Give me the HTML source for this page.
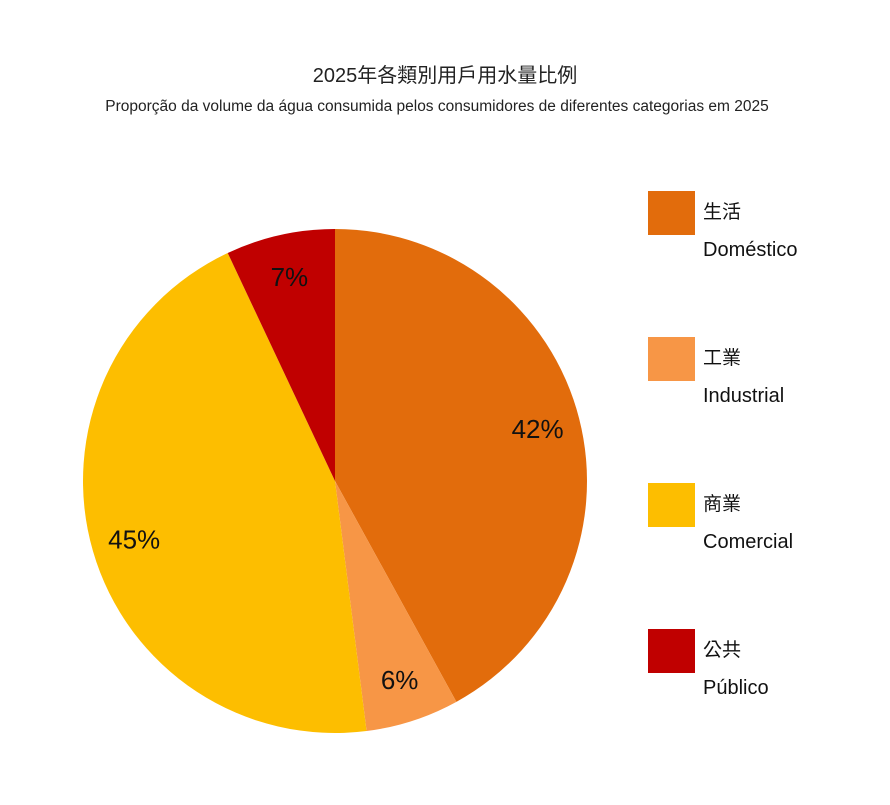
<!DOCTYPE html>
<html><head><meta charset="utf-8"><style>
body{margin:0;background:#fff;}
svg text{font-family:"Liberation Sans","Noto Sans CJK TC",sans-serif;}
</style></head><body>
<svg width="890" height="800" viewBox="0 0 890 800">
<rect width="890" height="800" fill="#fff"/>
<text x="445" y="82" text-anchor="middle" font-size="20" fill="#222">2025年各類別用戶用水量比例</text>
<text x="437" y="111" text-anchor="middle" font-size="15.5" fill="#222">Proporção da volume da água consumida pelos consumidores de diferentes categorias em 2025</text>
<g id="slices"></g>
<g id="labels"></g>
<g id="legend"></g>
</svg>
<script>
const categories=["生活","工業","商業","公共"];
const subLabels=["Doméstico","Industrial","Comercial","Público"];
const values=[42,6,45,7];
const colors=["#E26C0C","#F79646","#FDBE00","#C00000"];
const cx=335,cy=481,R=252;
const NS="http://www.w3.org/2000/svg";
const total=values.reduce((a,b)=>a+b,0);
function pt(a,r){return [cx+r*Math.sin(a),cy-r*Math.cos(a)];}
let a0=0;
const gs=document.getElementById('slices'),gl=document.getElementById('labels'),gg=document.getElementById('legend');
values.forEach((v,i)=>{
  const a1=a0+v/total*2*Math.PI;
  const p0=pt(a0,R),p1=pt(a1,R);
  const large=(a1-a0)>Math.PI?1:0;
  const p=document.createElementNS(NS,'path');
  p.setAttribute('d',`M${cx},${cy}L${p0[0]},${p0[1]}A${R},${R} 0 ${large} 1 ${p1[0]},${p1[1]}Z`);
  p.setAttribute('fill',colors[i]);
  
  
  gs.appendChild(p);
  const am=(a0+a1)/2;
  const lp=pt(am,R*0.83);
  const t=document.createElementNS(NS,'text');
  t.setAttribute('x',lp[0]);t.setAttribute('y',lp[1]+9);
  t.setAttribute('text-anchor','middle');t.setAttribute('font-size','26');t.setAttribute('fill','#111');
  t.textContent=Math.round(v/total*100)+'%';
  
  
  gl.appendChild(t);
  const y=191+i*146;
  const r=document.createElementNS(NS,'rect');
  r.setAttribute('x',648);r.setAttribute('y',y);r.setAttribute('width',47);r.setAttribute('height',44);r.setAttribute('fill',colors[i]);
  
  
  gg.appendChild(r);
  const t1=document.createElementNS(NS,'text');
  t1.setAttribute('x',703);t1.setAttribute('y',y+27);t1.setAttribute('font-size','19');t1.setAttribute('fill','#111');
  t1.textContent=categories[i];
  
  
  gg.appendChild(t1);
  const t2=document.createElementNS(NS,'text');
  t2.setAttribute('x',703);t2.setAttribute('y',y+65);t2.setAttribute('font-size','20');t2.setAttribute('fill','#111');
  t2.textContent=subLabels[i];
  
  
  gg.appendChild(t2);
  a0=a1;
});
</script>
</body></html>
